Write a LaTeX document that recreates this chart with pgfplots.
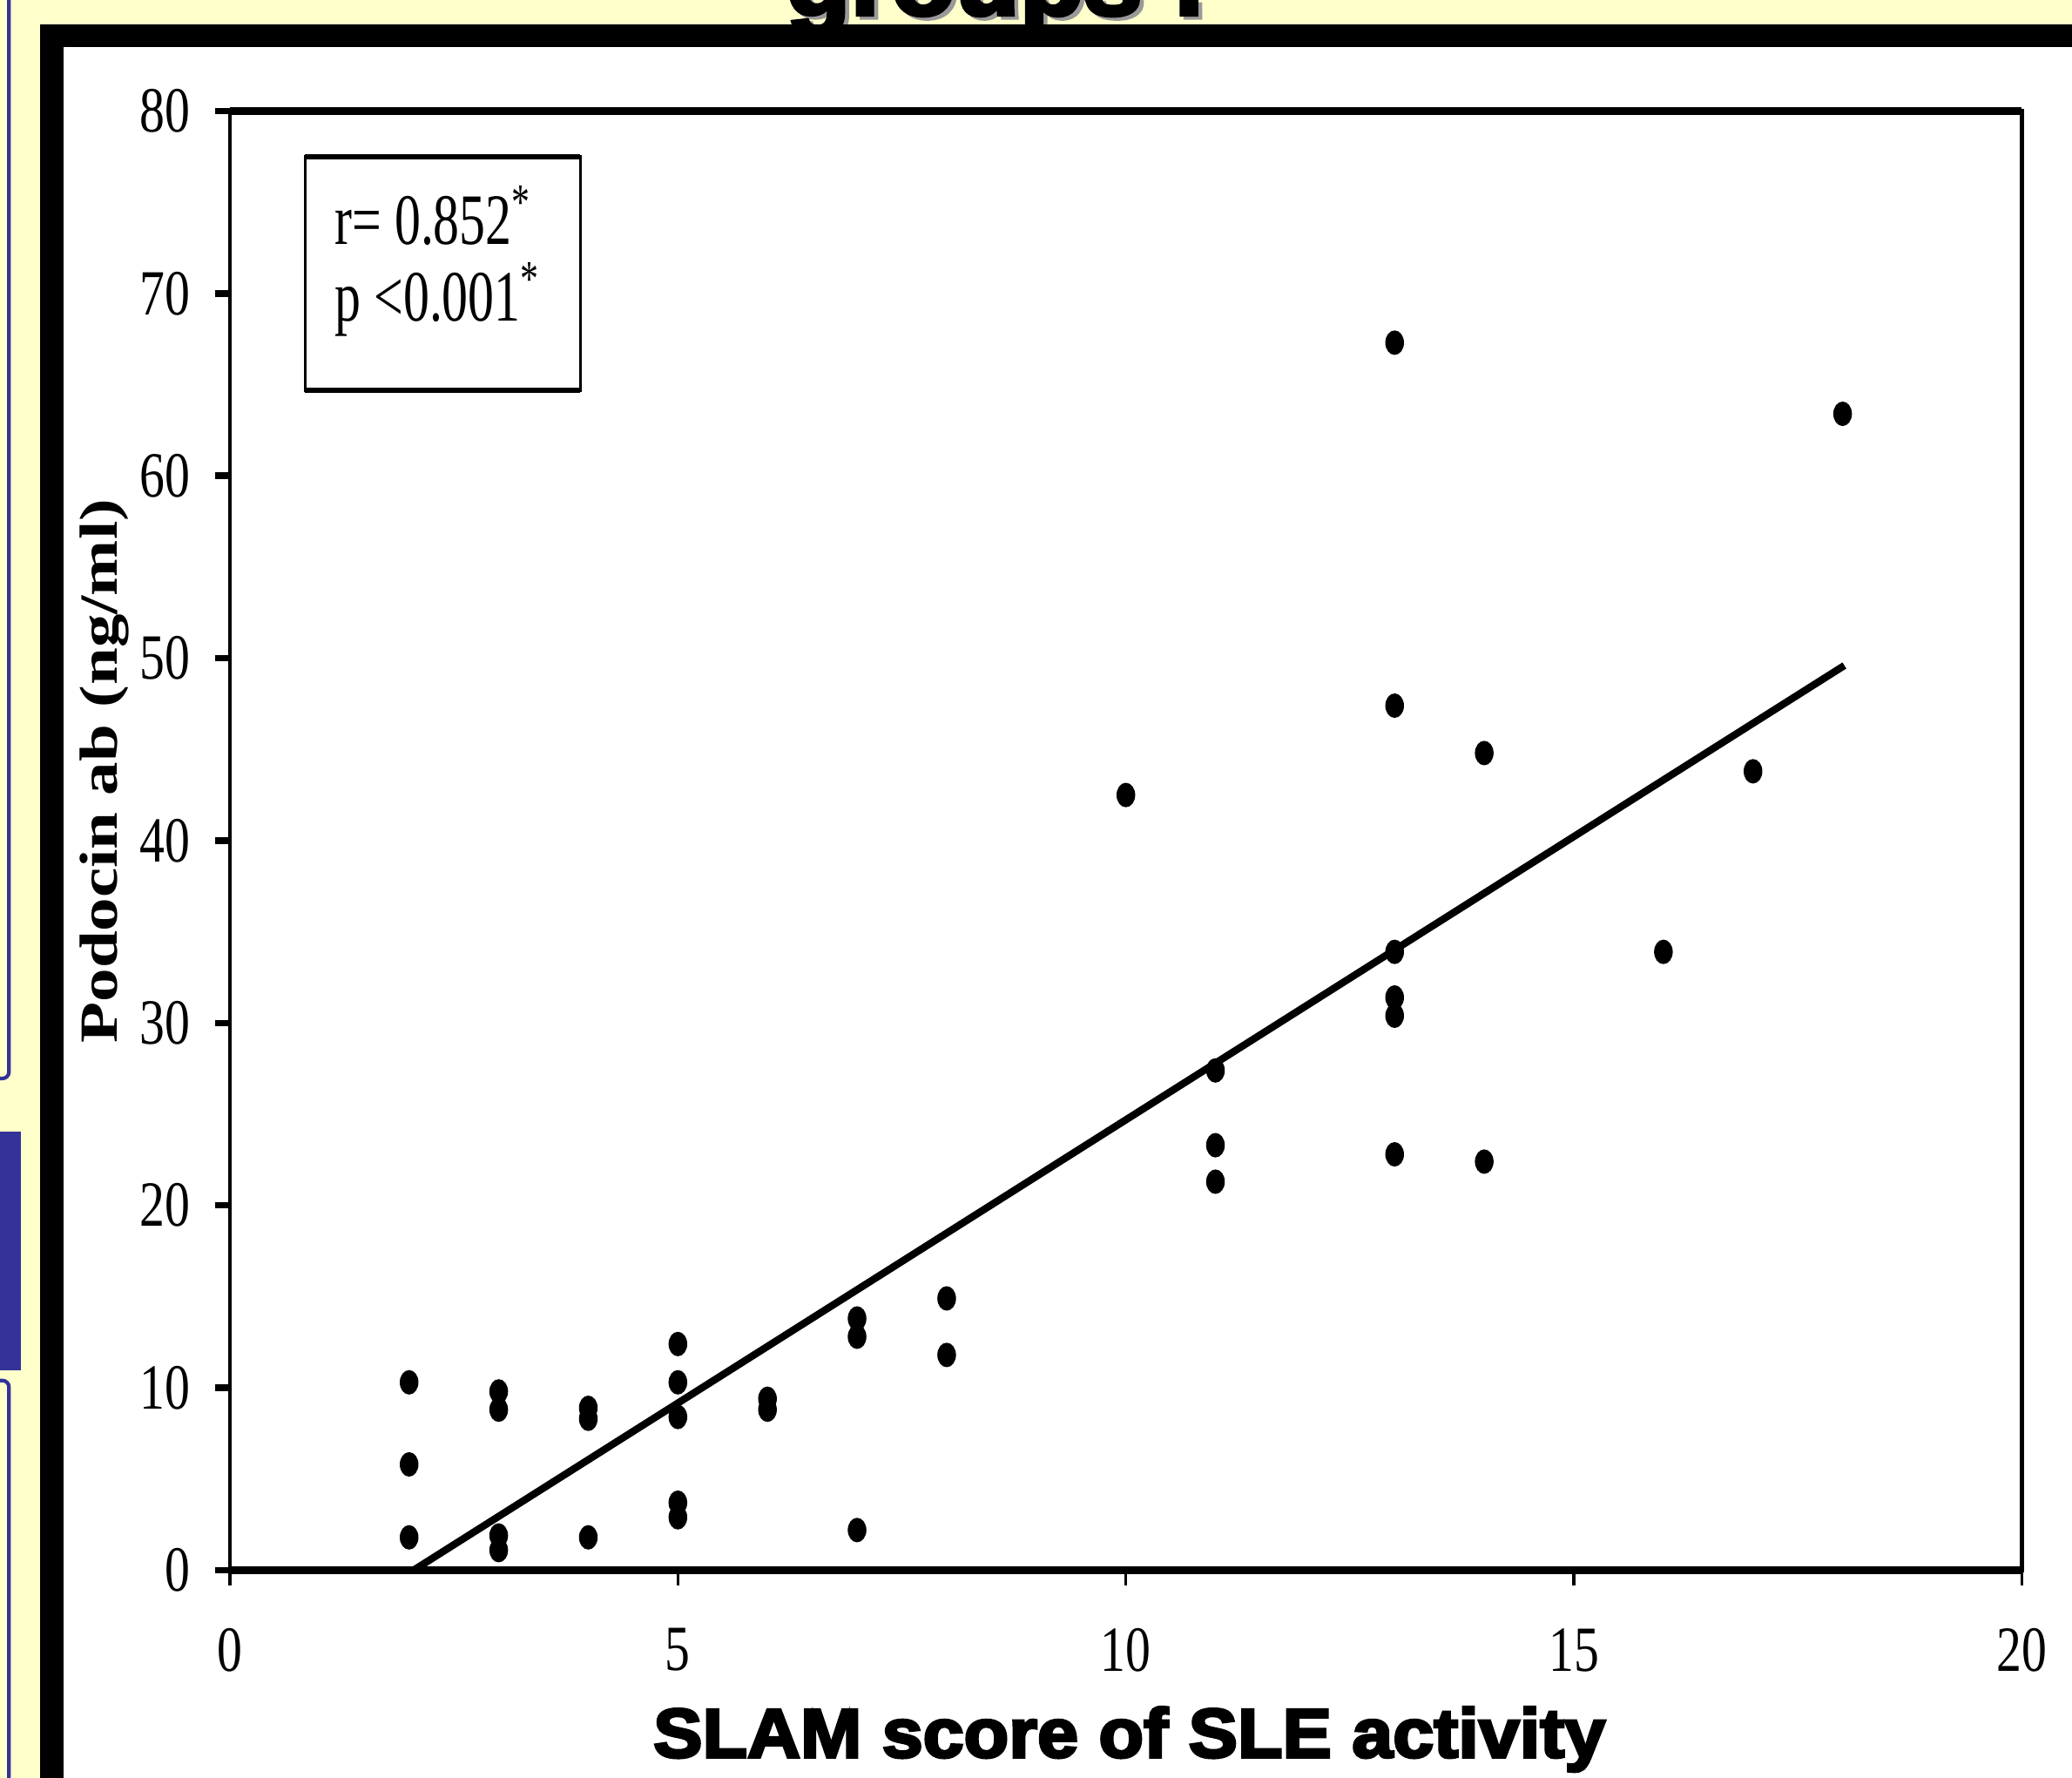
\documentclass[border=0pt]{standalone}
\usepackage{fontspec}
\usepackage{graphicx}
\usepackage{pgfplots}
\pgfplotsset{compat=1.18}
\setmainfont{Liberation Serif}
\newfontfamily\tnr[FakeStretch=0.78]{Liberation Serif}
\newfontfamily\tnrbox[FakeStretch=0.72]{Liberation Serif}
\newfontfamily\heavy[BoldFeatures={FakeBold=4,FakeStretch=1.06}]{Liberation Sans}
\definecolor{slideyellow}{RGB}{255,255,204}
\definecolor{slideblue}{RGB}{51,51,153}

\begin{document}
\begin{tikzpicture}
\useasboundingbox (0,0) rectangle (627.2pt,538pt);
\begin{scope}[x=0.4pt,y=-0.4pt,shift={(0pt,538pt)}]
  \fill[slideyellow] (0,0) rectangle (1568,1345);
  \draw[slideblue,line width=1.1pt,rounded corners=2pt] (-20,-20) rectangle (6.8,816);
  \fill[slideblue] (-5,856) rectangle (16,1037);
  \draw[slideblue,line width=1.1pt,rounded corners=2pt] (-20,1044.5) rectangle (6.8,1400);
  \begin{scope}
    \clip (0,0) rectangle (1568,1345);
    \node[anchor=base,inner sep=0pt,text=black!40] at (757,13.5) {\heavy\bfseries\fontsize{30}{30}\selectfont groups :};
    \node[anchor=base,inner sep=0pt,text=black] at (754,11.2) {\heavy\bfseries\fontsize{30}{30}\selectfont groups :};
  \end{scope}
  \fill[black] (30,18.4) rectangle (1600,1400);
  \fill[white] (48,35.5) rectangle (1600,1400);
\end{scope}

\begin{axis}[
  at={(69.6pt,62.8pt)}, anchor=south west,
  scale only axis, width=542.4pt, height=441.6pt,
  xmin=0, xmax=20, ymin=0, ymax=80,
  xtick={0,5,10,15,20}, ytick={0,10,20,30,40,50,60,70,80},
  axis line style={line width=1.2pt},
  tick align=outside, xtick pos=left, ytick pos=left,
  major tick length=4.5pt,
  xtick style={line width=0.8pt, black},
  ytick style={line width=2pt, black},
  /pgf/number format/assume math mode=true,
  ticklabel style={font=\tnr\fontsize{19.5}{19.5}\selectfont},
  yticklabel style={xshift=-4pt},
  xticklabel style={yshift=-9.6pt},
  clip=false,
  xlabel={\heavy\bfseries\fontsize{21}{21}\selectfont SLAM score of SLE activity},
  xlabel style={at={(axis description cs:0.502,-0.1282)}, anchor=base, inner sep=0pt},
  ylabel={\scalebox{1}[0.8]{\bfseries\fontsize{20.3}{20.3}\selectfont Podocin ab (ng/ml)}},
  ylabel style={at={(axis description cs:-0.070,0.5476)}, anchor=center, inner sep=0pt},
]
\draw[line width=2.6pt] (axis cs:0,0) -- (axis cs:20,0);
\draw[line width=2.4pt] (axis cs:0,80) -- (axis cs:20,80);

\addplot[only marks, mark=*, mark size=3.5pt, mark options={xscale=0.75, fill=black, draw=black}] coordinates {
(2,10.3) (2,5.8) (2,1.8)
(3,9.8) (3,8.8) (3,1.9) (3,1.1)
(4,8.9) (4,8.3) (4,1.8)
(5,12.4) (5,10.3) (5,8.4) (5,3.7) (5,2.9)
(6,9.4) (6,8.8)
(7,13.8) (7,12.8) (7,2.2)
(8,14.9) (8,11.8)
(10,42.5)
(11,27.4) (11,23.3) (11,21.3)
(13,67.3) (13,47.4) (13,33.9) (13,31.4) (13,30.4) (13,22.8)
(14,44.8) (14,22.4)
(16,33.9)
(17,43.8)
(18,63.4)
};
\addplot[line width=2.2pt, black] coordinates {(2.05,0) (18.02,49.6)};

\draw[line width=0.9pt] (axis cs:0.84,64.7) rectangle (axis cs:3.91,77.5);
\draw[line width=1.5pt] (axis cs:0.84,64.7) -- (axis cs:3.91,64.7);
\draw[line width=1.5pt] (axis cs:0.84,77.5) -- (axis cs:3.91,77.5);
\node[anchor=base west, inner sep=0pt] at (axis cs:1.165,72.7) {\tnrbox\fontsize{21.9}{21.9}\selectfont r= 0.852\textsuperscript{*}};
\node[anchor=base west, inner sep=0pt] at (axis cs:1.165,68.5) {\tnrbox\fontsize{21.9}{21.9}\selectfont p <0.001\textsuperscript{*}};
\end{axis}
\end{tikzpicture}
\end{document}
